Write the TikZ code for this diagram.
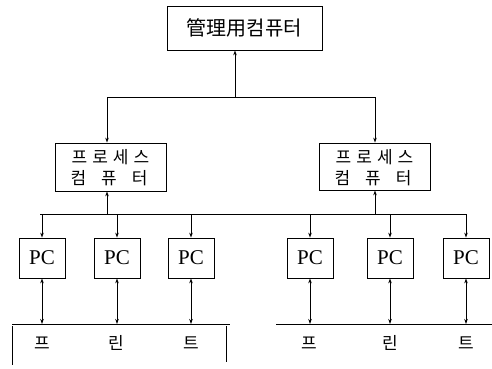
\documentclass[tikz,border=0pt]{standalone}
\usepackage{fontspec}
\setmainfont{Liberation Serif}
\newfontfamily\kr{Noto Sans CJK KR}
\usetikzlibrary{arrows.meta}
\begin{document}
\begin{tikzpicture}[x=1pt,y=-1pt,
  line width=0.8pt,
  >={Stealth[length=5pt,width=3.5pt]},
  box/.style={draw,inner sep=0pt,anchor=center},
  pcbox/.style={box,minimum width=46pt,minimum height=40pt,font=\fontsize{21}{22}\selectfont},
  krtext/.style={font=\kr\fontsize{17}{18}\selectfont,inner sep=0pt}]
\useasboundingbox (0,0) rectangle (492,369);
% top
\node[box,minimum width=155pt,minimum height=44pt,font=\kr\fontsize{20}{22}\selectfont] (mgmt) at (244.5,28) {管理用컴퓨터};
\coordinate (b1l) at (107,97);
\coordinate (b1r) at (375,97);
\coordinate (b1m) at (235,97);
\draw (b1l) -- (b1r);
\draw[->] (b1m) -- (mgmt.south -| b1m);
% process computers
\node[box,minimum width=111pt,minimum height=48pt] (pl) at (110.5,167) {};
\node[box,minimum width=111pt,minimum height=47pt] (pr) at (374.5,166.5) {};
\node[krtext] (pl1) at (110.5,157) {프\hspace{5pt}로\hspace{5pt}세\hspace{5pt}스};
\node[krtext] (pl2) at (109,178) {컴\hspace{15pt}퓨\hspace{15pt}터};
\node[krtext] (pr1) at (374.5,157) {프\hspace{5pt}로\hspace{5pt}세\hspace{5pt}스};
\node[krtext] (pr2) at (373,178) {컴\hspace{15pt}퓨\hspace{15pt}터};
\draw[->] (b1l) -- (pl.north -| b1l);
\draw[->] (b1r) -- (pr.north -| b1r);
% second bus
\coordinate (b2l) at (40,214);
\coordinate (b2r) at (466,214);
\draw (b2l) -- (b2r);
\draw[->] (107,214) coordinate (u1) -- (pl.south -| u1);
\draw[->] (375,214) coordinate (u2) -- (pr.south -| u2);
% PCs
\foreach \n/\x in {1/42,2/117,3/191,4/310,5/390,6/466}{
  \node[pcbox] (pc\n) at (\x,258) {PC};
  \coordinate (t\n) at (\x,214);
  \draw[->] (t\n) -- (pc\n.north);
  \coordinate (p\n) at (\x,324);
  \draw[<->] (pc\n.south) -- (p\n);
}
% printers
\coordinate (ll) at (12,324);
\coordinate (lr) at (230,324);
\draw (ll) -- (lr);
\draw (12,326) -- (12,365);
\draw (226,326) -- (226,362);
\coordinate (rl) at (276,324);
\coordinate (rr) at (492,324);
\draw (rl) -- (rr);
\node[krtext] (pa) at (42,343) {프};
\node[krtext] (pb) at (116,343) {린};
\node[krtext] (pc) at (191,343) {트};
\node[krtext] (pd) at (309,343) {프};
\node[krtext] (pe) at (390,343) {린};
\node[krtext] (pf) at (466,343) {트};
\end{tikzpicture}
\end{document}
